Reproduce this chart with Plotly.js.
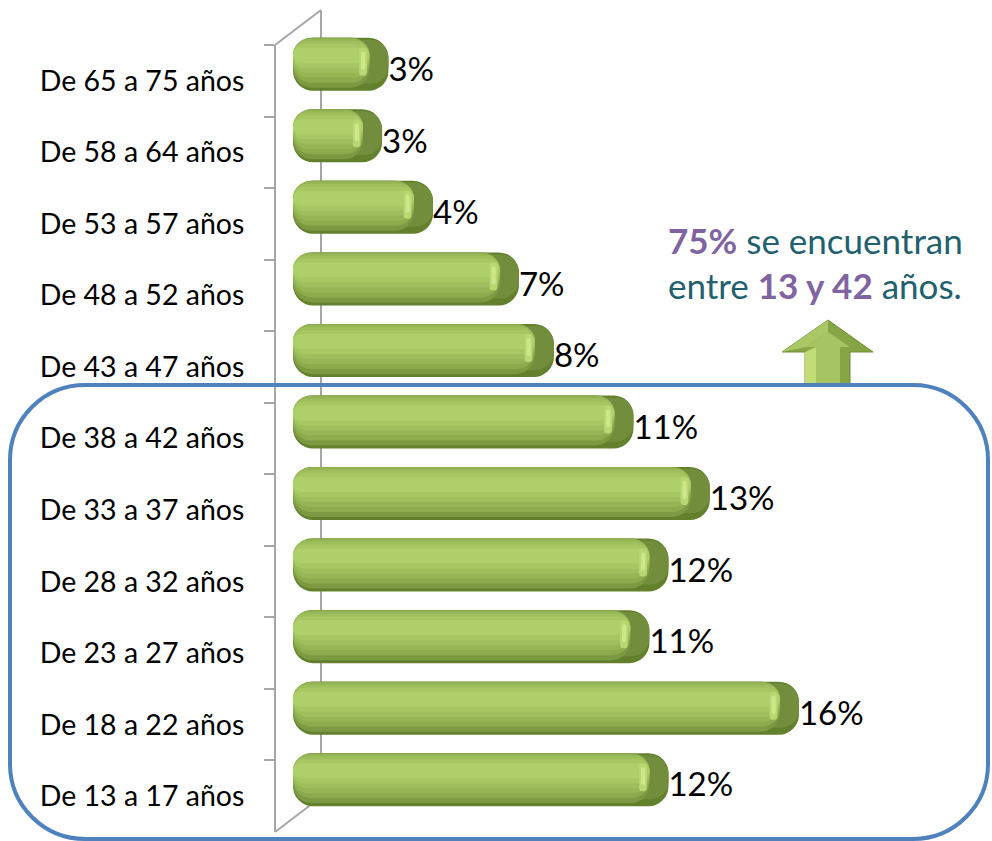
<!DOCTYPE html>
<html>
<head>
<meta charset="utf-8">
<script src="https://cdn.plot.ly/plotly-3.0.1.min.js"></script>
<style>html,body{margin:0;padding:0;background:#fff;}#chart{width:992px;height:841px;}</style>
</head>
<body>
<div id="chart"></div>
<script>
// ---- data (bottom to top) ----
const categories = ["De 13 a 17 años","De 18 a 22 años","De 23 a 27 años","De 28 a 32 años","De 33 a 37 años","De 38 a 42 años","De 43 a 47 años","De 48 a 52 años","De 53 a 57 años","De 58 a 64 años","De 65 a 75 años"];
const values = [11.8, 15.9, 11.2, 11.8, 13.1, 10.7, 8.2, 7.1, 4.4, 2.8, 3.0];
const valueLabels = ["12%","16%","11%","12%","13%","11%","8%","7%","4%","3%","3%"];
const noteLine1 = "<b><span style='color:#8064a2'>75%</span></b> se encuentran";
const noteLine2 = "entre <b><span style='color:#8064a2'>13 y 42</span></b> años.";

// ---- geometry helpers (page pixels -> paper fractions) ----
const W = 992, H = 841;
const X = px => px / W;
const Y = py => 1 - py / H;
const FONT = "Lato, 'Open Sans', sans-serif";

const frontTop = 45, frontBot = 832;
const unitPx = (frontBot - frontTop) / categories.length;
const barShift = 16.5, textShift = 8;
const zeroPx = 293, pxPerPct = 31.82, xMax = 20;

// ---- cylinder drawing (all lengths derived from values) ----
const T = 53;                       // bar thickness in px
const capW = 0.6;                   // end-cap depth in % units
const zeros = values.map(() => 0);
const bodyLen = values.map(v => v - capW);

const traces = [{
  type: "scatter", mode: "markers", x: values, y: categories,
  xaxis: "x", yaxis: "y", marker: {opacity: 0}, hoverinfo: "skip"
}];

// a bar with an explicit base gets all four corners rounded
function layer(xs, base, top, bottom, color, r) {
  traces.push({
    type: "bar", orientation: "h", x: xs, base: base, y: categories, xaxis: "x", yaxis: "y2",
    width: (bottom - top) / unitPx, offset: (T / 2 - bottom) / unitPx,
    marker: {color: color, cornerradius: r, line: {width: 0}}, hoverinfo: "skip"
  });
}

// dark end cap / shadow
layer(values, zeros, 0, 53, "#63802c", 20);
layer(values, zeros, 2, 46, "#728d3b", 18);
// body gradient
layer(bodyLen, zeros, 0, 50, "#7d9a43", 19);
layer(bodyLen, zeros, 0, 45, "#8cab4c", 18);
layer(bodyLen, zeros, 1, 40, "#96b554", 16);
layer(bodyLen, zeros, 3, 35, "#9fbe5c", 14);
layer(bodyLen, zeros, 6, 30, "#a7c763", 11);
layer(bodyLen, zeros, 10, 25, "#aecf69", 7);
// highlight near the end
layer(values.map(() => 0.24), values.map(v => v - capW - 0.32), 10, 38, "#b9d874", 4);
layer(values.map(() => 0.13), values.map(v => v - capW - 0.26), 14, 32, "#cde78a", 3);

// value labels
traces.push({
  type: "scatter", mode: "text", x: values, y: categories, text: valueLabels,
  textposition: "middle right", xaxis: "x", yaxis: "y3", cliponaxis: false,
  textfont: {family: FONT, size: 33, color: "#000"}, hoverinfo: "skip"
});

const catAxis = {
  type: "category", categoryorder: "array", categoryarray: categories,
  range: [-0.5, categories.length - 0.5], fixedrange: true
};

const grey = "#a6a6a6";
const bx0 = 10, bx1 = 988, by0 = 385, by1 = 839, r = 75, k = 0.5523 * r;
const P = (x, y) => X(x) + "," + Y(y);
const boxPath =
  "M" + P(bx0 + r, by0) + " L" + P(bx1 - r, by0) +
  " C" + P(bx1 - r + k, by0) + " " + P(bx1, by0 + r - k) + " " + P(bx1, by0 + r) +
  " L" + P(bx1, by1 - r) +
  " C" + P(bx1, by1 - r + k) + " " + P(bx1 - r + k, by1) + " " + P(bx1 - r, by1) +
  " L" + P(bx0 + r, by1) +
  " C" + P(bx0 + r - k, by1) + " " + P(bx0, by1 - r + k) + " " + P(bx0, by1 - r) +
  " L" + P(bx0, by0 + r) +
  " C" + P(bx0, by0 + r - k) + " " + P(bx0 + r - k, by0) + " " + P(bx0 + r, by0) + " Z";

const arrowOuter = "M" + P(828, 320) + " L" + P(873, 352) + " L" + P(850, 352) + " L" + P(850, 384) +
  " L" + P(805, 384) + " L" + P(805, 352) + " L" + P(782, 352) + " Z";
const arrowLeft = "M" + P(828, 320) + " L" + P(828, 332) + " L" + P(806, 347) + " L" + P(782, 352) + " Z";
const arrowShaftL = "M" + P(805, 352) + " L" + P(816, 347) + " L" + P(816, 384) + " L" + P(805, 384) + " Z";
const arrowFace = "M" + P(828, 332) + " L" + P(850, 347) + " L" + P(840, 347) + " L" + P(840, 384) +
  " L" + P(816, 384) + " L" + P(816, 347) + " L" + P(806, 347) + " Z";

const shapes = [
  {type: "line", xref: "paper", yref: "paper", x0: X(321), y0: Y(10), x1: X(321), y1: Y(frontBot - 35), line: {color: grey, width: 2}, layer: "below"},
  {type: "line", xref: "paper", yref: "paper", x0: X(275), y0: Y(frontTop), x1: X(321), y1: Y(10), line: {color: grey, width: 2}, layer: "below"},
  {type: "line", xref: "paper", yref: "paper", x0: X(275), y0: Y(frontBot), x1: X(321), y1: Y(frontBot - 35), line: {color: grey, width: 2}, layer: "below"},
  {type: "path", xref: "paper", yref: "paper", path: arrowOuter, fillcolor: "#86a545", line: {color: "#6f8c37", width: 1}},
  {type: "path", xref: "paper", yref: "paper", path: arrowLeft, fillcolor: "#a9c865", line: {width: 0}},
  {type: "path", xref: "paper", yref: "paper", path: arrowShaftL, fillcolor: "#c2dc78", line: {width: 0}},
  {type: "path", xref: "paper", yref: "paper", path: arrowFace, fillcolor: "#a6c461", line: {width: 0}},
  {type: "path", xref: "paper", yref: "paper", path: boxPath, line: {color: "#4f81bd", width: 4}}
];

const layout = {
  width: W, height: H,
  margin: {l: 0, r: 0, t: 0, b: 0, pad: 0},
  paper_bgcolor: "#ffffff", plot_bgcolor: "rgba(0,0,0,0)",
  showlegend: false, barmode: "overlay",
  xaxis: {domain: [X(zeroPx), X(zeroPx + xMax * pxPerPct)], range: [0, xMax], visible: false, fixedrange: true},
  yaxis: Object.assign({}, catAxis, {
    domain: [Y(frontBot), Y(frontTop)], anchor: "free", position: X(275),
    showline: true, linecolor: grey, linewidth: 2,
    ticks: "outside", ticklen: 10, tickwidth: 2, tickcolor: grey, tickson: "boundaries",
    showgrid: false, zeroline: false, ticklabelstandoff: 24,
    tickfont: {family: FONT, size: 28.5, color: "#000"}
  }),
  yaxis2: Object.assign({}, catAxis, {
    domain: [Y(frontBot - barShift), Y(frontTop - barShift)], anchor: "x", visible: false
  }),
  yaxis3: Object.assign({}, catAxis, {
    domain: [Y(frontBot - textShift), Y(frontTop - textShift)], anchor: "x", visible: false
  }),
  shapes: shapes,
  annotations: [
    {xref: "paper", yref: "paper", x: X(666), y: Y(240), xanchor: "left", yanchor: "middle", showarrow: false,
     text: noteLine1, font: {family: FONT, size: 35, color: "#23606e"}},
    {xref: "paper", yref: "paper", x: X(666), y: Y(285), xanchor: "left", yanchor: "middle", showarrow: false,
     text: noteLine2, font: {family: FONT, size: 35, color: "#23606e"}}
  ]
};

Plotly.newPlot("chart", traces, layout, {displayModeBar: false, staticPlot: true});
</script>
</body>
</html>
